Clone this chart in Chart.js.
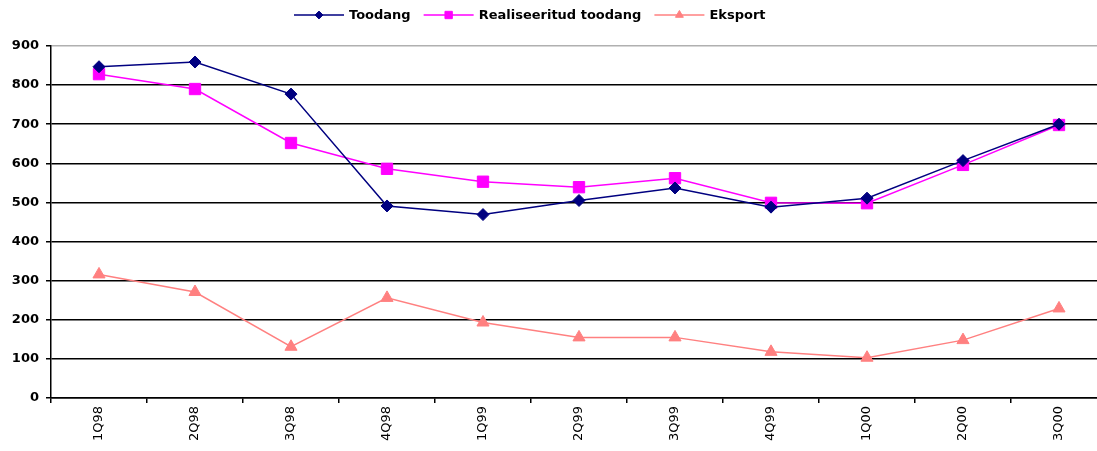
<!DOCTYPE html>
<html>
<head>
<meta charset="utf-8">
<script src="https://cdn.jsdelivr.net/npm/chart.js@4/dist/chart.umd.min.js"></script>
<style>
  html, body { margin: 0; padding: 0; background: #fff; overflow: hidden; }
  #wrap { position: absolute; left: 0; top: 0; width: 1097px; height: 451px; }
</style>
</head>
<body>
<div id="wrap"><canvas id="c"></canvas></div>
<script>
const categories = ['1Q98','2Q98','3Q98','4Q98','1Q99','2Q99','3Q99','4Q99','1Q00','2Q00','3Q00'];
const toodang = [847, 859, 777, 491, 469, 505, 537, 488, 511, 607, 700];
const realiseeritudToodang = [828, 790, 652, 586, 553, 539, 562, 499, 498, 596, 698];
const eksport = [316, 271, 131, 256, 193, 155, 155, 118, 103, 148, 229];
const seriesNames = ['Toodang', 'Realiseeritud toodang', 'Eksport'];
const yTicks = [0, 100, 200, 300, 400, 500, 600, 700, 800, 900];

const FONT = '"DejaVu Sans", sans-serif';

function drawMarker(ctx, style, x, y, r, color) {
  ctx.save();
  ctx.fillStyle = color;
  ctx.strokeStyle = color;
  ctx.lineWidth = 1;
  ctx.beginPath();
  if (style === 'rectRot') {
    ctx.moveTo(x - r, y); ctx.lineTo(x, y - r); ctx.lineTo(x + r, y); ctx.lineTo(x, y + r);
  } else if (style === 'rect') {
    const s = r * Math.SQRT1_2;
    ctx.rect(x - s, y - s, 2 * s, 2 * s);
  } else {
    const h = r * Math.sqrt(3) / 2;
    ctx.moveTo(x, y - r); ctx.lineTo(x + h, y + r / 2); ctx.lineTo(x - h, y + r / 2);
  }
  ctx.closePath();
  ctx.fill();
  ctx.stroke();
  ctx.restore();
}

const legendPlugin = {
  id: 'customLegend',
  afterDraw(chart) {
    const ctx = chart.ctx;
    ctx.save();
    ctx.font = 'bold 13px ' + FONT;
    ctx.textBaseline = 'middle';
    let x = 294;
    const y = 15;
    chart.data.datasets.forEach(ds => {
      ctx.strokeStyle = ds.borderColor;
      ctx.lineWidth = 1.5;
      ctx.beginPath();
      ctx.moveTo(x, y); ctx.lineTo(x + 50, y);
      ctx.stroke();
      drawMarker(ctx, ds.pointStyle, x + 25, y, ds.pointRadius * 0.65, ds.pointBackgroundColor);
      ctx.fillStyle = '#000';
      ctx.fillText(ds.label, x + 55, y + 1);
      x += 55 + ctx.measureText(ds.label).width + 13;
    });
    ctx.restore();
  }
};

// The original plot area runs past the right edge of the picture (it is cropped).
const extendPlugin = {
  id: 'extendRight',
  afterLayout(chart) {
    const xs = chart.scales.x;
    const extra = (chart.width + 10) - xs.right;
    xs.right += extra;
    xs.width += extra;
    chart.chartArea.right += extra;
    chart.chartArea.width += extra;
    xs.configure();
  }
};

new Chart(document.getElementById('c'), {
  type: 'line',
  data: {
    labels: categories,
    datasets: [
      { label: seriesNames[0], data: toodang, borderColor: '#000080', backgroundColor: '#000080',
        pointBackgroundColor: '#000080', pointBorderColor: '#000080', pointStyle: 'rectRot', pointRadius: 6 },
      { label: seriesNames[1], data: realiseeritudToodang, borderColor: '#FF00FF', backgroundColor: '#FF00FF',
        pointBackgroundColor: '#FF00FF', pointBorderColor: '#FF00FF', pointStyle: 'rect', pointRadius: 8 },
      { label: seriesNames[2], data: eksport, borderColor: '#FF8080', backgroundColor: '#FF8080',
        pointBackgroundColor: '#FF8080', pointBorderColor: '#FF8080', pointStyle: 'triangle', pointRadius: 7 }
    ]
  },
  options: {
    responsive: true,
    maintainAspectRatio: false,
    animation: false,
    devicePixelRatio: 1,
    layout: { padding: { top: 46, left: 0, right: 0, bottom: 0 } },
    elements: { line: { borderWidth: 1.5, tension: 0 }, point: { borderWidth: 1, hoverRadius: 6 } },
    plugins: { legend: { display: false }, tooltip: { enabled: false } },
    scales: {
      x: {
        offset: true,
        grid: { offset: true, drawOnChartArea: false, drawTicks: true, tickLength: 5, tickColor: '#000', lineWidth: 1.5 },
        border: { color: '#000', width: 1.5 },
        ticks: { autoSkip: false, minRotation: 90, maxRotation: 90, padding: 3, color: '#000',
                 font: { family: FONT, size: 13 } },
        afterFit(scale) { scale.height = 53; }
      },
      y: {
        min: 0, max: 900,
        afterBuildTicks(scale) { scale.ticks = yTicks.map(v => ({ value: v })); },
        grid: {
          color: c => (c.tick && c.tick.value === 900) ? '#b0b0b0' : '#000',
          lineWidth: 1.5, tickLength: 5, tickColor: '#000'
        },
        border: { color: '#000', width: 1.5 },
        ticks: { padding: 7, color: '#000', font: { family: FONT, size: 13, weight: 'bold' } },
        afterFit(scale) { scale.width = 51; }
      }
    }
  },
  plugins: [legendPlugin, extendPlugin]
});
</script>
</body>
</html>
